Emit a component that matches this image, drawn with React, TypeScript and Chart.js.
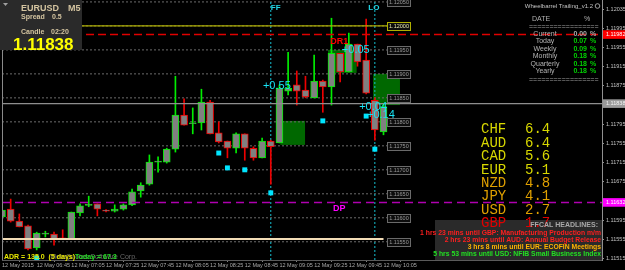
import React, { useEffect, useRef } from "react";
import { Chart, registerables } from "chart.js";

Chart.register(...registerables);

// ---------------- data ----------------
const opens = [1.11602, 1.11618, 1.11593, 1.11583, 1.11537, 1.11566, 1.11566, 1.11558, 1.11556, 1.1161, 1.11626, 1.11629, 1.11616, 1.11614, 1.11618, 1.11627, 1.11656, 1.1167, 1.11716, 1.11716, 1.11743, 1.11814, 1.11796, 1.11798, 1.11841, 1.11777, 1.1176, 1.11745, 1.11775, 1.11745, 1.11725, 1.1176, 1.11756, 1.11864, 1.11877, 1.11866, 1.1185, 1.11885, 1.11873, 1.11943, 1.11904, 1.11962, 1.11929, 1.11845, 1.11779];
const highs = [1.11627, 1.11639, 1.11608, 1.11585, 1.1157, 1.11572, 1.1157, 1.11575, 1.11612, 1.11629, 1.11645, 1.11629, 1.11617, 1.11627, 1.11629, 1.1166, 1.11673, 1.11731, 1.11727, 1.11745, 1.11895, 1.11848, 1.11829, 1.11868, 1.11845, 1.118, 1.1176, 1.11777, 1.11775, 1.11748, 1.11766, 1.11762, 1.11877, 1.11945, 1.11906, 1.11895, 1.11939, 1.11887, 1.12016, 1.11943, 1.11985, 1.11962, 1.12014, 1.1185, 1.11838];
const lows = [1.11598, 1.11591, 1.11581, 1.11533, 1.11533, 1.1156, 1.11543, 1.11556, 1.11556, 1.11604, 1.11623, 1.11604, 1.11612, 1.11612, 1.11616, 1.11625, 1.11643, 1.11668, 1.11695, 1.11714, 1.11737, 1.11793, 1.11775, 1.11783, 1.11775, 1.11756, 1.11725, 1.11735, 1.1172, 1.1172, 1.11725, 1.1167, 1.11756, 1.11856, 1.11835, 1.1185, 1.1185, 1.1182, 1.11835, 1.11883, 1.11904, 1.11916, 1.11858, 1.11762, 1.11773];
const closes = [1.11616, 1.11593, 1.11581, 1.11535, 1.11568, 1.11568, 1.11556, 1.11556, 1.11612, 1.11625, 1.11628, 1.11618, 1.11614, 1.11618, 1.11627, 1.11654, 1.11668, 1.11716, 1.11718, 1.11743, 1.11814, 1.11793, 1.11798, 1.11841, 1.11775, 1.11758, 1.11745, 1.11775, 1.11745, 1.11725, 1.1176, 1.11748, 1.1187, 1.1187, 1.11864, 1.11852, 1.11885, 1.11873, 1.11943, 1.11904, 1.11962, 1.11925, 1.1186, 1.11783, 1.11832];

const xTickIndex = [0, 4, 8, 12, 16, 20, 24, 28, 32, 36, 40, 44];
const xTickLabels = ["12 May 2015", "12 May 06:45", "12 May 07:05", "12 May 07:25", "12 May 07:45", "12 May 08:05", "12 May 08:25", "12 May 08:45", "12 May 09:05", "12 May 09:25", "12 May 09:45", "12 May 10:05"];

const yAxisTicks = [1.11515, 1.11555, 1.11595, 1.11675, 1.11715, 1.11755, 1.11795, 1.11875, 1.11915, 1.11955, 1.11995, 1.12035];
const gridLevels = [1.1155, 1.116, 1.1165, 1.117, 1.1175, 1.118, 1.1185, 1.119, 1.1195, 1.12, 1.1205];

const levelR = 1.12;      // yellow level
const levelDR1 = 1.11982; // red dashed
const levelBid = 1.11838; // current price
const levelDP = 1.11632;  // magenta dashed
const levelAdr = 1.11556; // beige line

const vLineIndex = [31, 43];
const vLineText = ["FF", "LO"];

const zoneStart = [32.1, 37.6, 42.8];
const zoneEnd = [34.95, 40.9, 45.9];
const zoneHigh = [1.11802, 1.1195, 1.119];
const zoneLow = [1.11752, 1.11902, 1.11835];

const markerIndex = [4, 25, 26, 28, 31, 37, 42, 43];
const markerPrice = [1.11516, 1.11735, 1.11704, 1.117, 1.11652, 1.11802, 1.11812, 1.11743];

const valueTexts = ["+0.55", "+0.05", "+0.04", "+0.14"];
const valueIndex = [31.7, 40.8, 42.8, 43.7];
const valuePrice = [1.11875, 1.1195, 1.11831, 1.11814];

const currencies = ["CHF", "AUD", "CAD", "EUR", "NZD", "JPY", "USD", "GBP"];
const strengths = [6.4, 6.4, 5.6, 5.1, 4.8, 4.1, 2.7, 1.7];

const tableRows = ["Current", "Today", "Weekly", "Monthly", "Quarterly", "Yearly"];
const tableValues = ["0.00", "0.07", "0.09", "0.18", "0.18", "0.18"];

const headlines = [
  "1 hrs 23 mins until GBP: Manufacturing Production m/m",
  "2 hrs 23 mins until AUD: Annual Budget Release",
  "3 hrs 8 mins until EUR: ECOFIN Meetings",
  "5 hrs 53 mins until USD: NFIB Small Business Index",
];
const headlineColors = ["#ff1f1f", "#ff1f1f", "#ffb400", "#22e022"];

// ---------------- style ----------------
const FONT = '"Liberation Sans", Arial, sans-serif';
const MONO = '"Liberation Mono", "Courier New", monospace';
const GREEN = "#00ee00";
const RED = "#ee0000";
const X_MIN = 0;
const X_MAX = 69.2;
const Y_MIN = 1.11512;
const Y_MAX = 1.12054;
const BOX_AT = 44.4;

function txt(ctx: any, s: string, x: number, y: number, font: string, color: string, align: string = "left") {
  ctx.font = font;
  ctx.fillStyle = color;
  ctx.textAlign = align;
  ctx.textBaseline = "middle";
  ctx.fillText(s, x, y);
}

const overlayPlugin = {
  id: "mtOverlay",
  beforeDraw(chart: any) {
    const { ctx, width, height } = chart;
    ctx.save();
    ctx.fillStyle = "#000";
    ctx.fillRect(0, 0, width, height);
    ctx.restore();
  },
  beforeDatasetsDraw(chart: any) {
    const { ctx, chartArea, scales } = chart;
    const xs = scales.x, ys = scales.y;
    ctx.save();
    ctx.beginPath();
    ctx.rect(chartArea.left, chartArea.top, chartArea.right - chartArea.left, chartArea.bottom - chartArea.top);
    ctx.clip();
    ctx.fillStyle = "#006800";
    zoneStart.forEach((s, k) => {
      const x0 = xs.getPixelForValue(s), x1 = xs.getPixelForValue(zoneEnd[k]);
      const y0 = ys.getPixelForValue(zoneHigh[k]), y1 = ys.getPixelForValue(zoneLow[k]);
      ctx.fillRect(x0, y0, x1 - x0, y1 - y0);
    });
    ctx.restore();
  },
  afterDatasetsDraw(chart: any) {
    const { ctx, chartArea, scales } = chart;
    const xs = scales.x, ys = scales.y;
    ctx.save();
    // left frame
    ctx.strokeStyle = "#8a8a8a";
    ctx.lineWidth = 1;
    ctx.beginPath();
    ctx.moveTo(Math.round(chartArea.left) + 0.5, chartArea.top);
    ctx.lineTo(Math.round(chartArea.left) + 0.5, chartArea.bottom);
    ctx.stroke();

    ctx.beginPath();
    ctx.rect(chartArea.left, chartArea.top, chartArea.right - chartArea.left, chartArea.bottom - chartArea.top);
    ctx.clip();

    // level boxes
    const bx = Math.round(xs.getPixelForValue(BOX_AT)) + 0.5;
    gridLevels.forEach((lv) => {
      const by = Math.round(ys.getPixelForValue(lv)) + 0.5;
      const isR = Math.abs(lv - levelR) < 1e-9;
      ctx.fillStyle = "#0c0c0c";
      ctx.fillRect(bx, by - 4, 23, 8);
      ctx.strokeStyle = isR ? "#b0b000" : "#6a6a6a";
      ctx.strokeRect(bx, by - 4, 23, 8);
      txt(ctx, lv.toFixed(5), bx + 11.5, by, `5.5px ${FONT}`, isR ? "#e8e8b0" : "#9a9a9a", "center");
    });

    // vertical line captions
    vLineIndex.forEach((vi, k) => {
      const px = xs.getPixelForValue(vi);
      if (k === 0) txt(ctx, vLineText[k], px, 8, `bold 8px ${FONT}`, "#22d8e8", "left");
      else txt(ctx, vLineText[k], px - 1, 8, `bold 8px ${FONT}`, "#22d8e8", "center");
    });

    // DR1 / DP captions
    txt(ctx, "DR1", xs.getPixelForValue(38.9), ys.getPixelForValue(1.11968), `bold 9px ${FONT}`, "#ff0000", "center");
    txt(ctx, "DP", xs.getPixelForValue(38.9), ys.getPixelForValue(1.1162), `bold 9px ${FONT}`, "#ff00ff", "center");

    // cyan value labels
    valueTexts.forEach((s, k) => {
      txt(ctx, s, xs.getPixelForValue(valueIndex[k]), ys.getPixelForValue(valuePrice[k]), `11px ${FONT}`, "#19e3f5", "center");
    });
    ctx.restore();
  },
  afterDraw(chart: any) {
    const { ctx } = chart;
    ctx.save();

    // top-left panel
    ctx.fillStyle = "#2a2a2a";
    ctx.fillRect(0, 0, 82, 50);
    ctx.fillStyle = "#a0a0a0";
    ctx.beginPath();
    ctx.moveTo(3, 3); ctx.lineTo(8, 3); ctx.lineTo(5.5, 6); ctx.closePath(); ctx.fill();
    const tan = "#d4c4a0";
    txt(ctx, "EURUSD", 21, 9, `bold 9px ${FONT}`, tan);
    txt(ctx, "M5", 68, 9, `bold 9px ${FONT}`, tan);
    txt(ctx, "Spread", 21, 17, `bold 7px ${FONT}`, tan);
    txt(ctx, "0.5", 52, 17, `bold 7px ${FONT}`, tan);
    txt(ctx, "Candle", 21, 32, `bold 7px ${FONT}`, tan);
    txt(ctx, "02:20", 51, 32, `bold 7px ${FONT}`, tan);
    txt(ctx, "1.11838", 13, 45, `bold 17px ${FONT}`, "#ffff00");

    // top-right table
    txt(ctx, "Wheelbarrel Trailing_v1.2", 593, 6, `6px ${FONT}`, "#c4c4c4", "right");
    ctx.strokeStyle = "#c4c4c4";
    ctx.lineWidth = 0.8;
    ctx.beginPath(); ctx.arc(597.5, 6, 2.3, 0, Math.PI * 2); ctx.stroke();
    txt(ctx, "DATE", 532, 19, `7px ${FONT}`, "#b0b0b0");
    txt(ctx, "%", 584, 19, `7px ${FONT}`, "#b0b0b0");
    txt(ctx, "=================", 529, 27, `7px ${FONT}`, "#a0a0a0");
    tableRows.forEach((r, k) => {
      const yy = 34 + k * 7.5;
      const col = k === 0 ? "#a8a8a8" : "#00d000";
      txt(ctx, r, 545, yy, `7px ${FONT}`, "#b4b4b4", "center");
      txt(ctx, tableValues[k], 587, yy, `bold 7px ${FONT}`, col, "right");
      txt(ctx, "%", 590, yy, `bold 7px ${FONT}`, col, "left");
    });
    txt(ctx, "=================", 529, 80, `7px ${FONT}`, "#a0a0a0");

    // headlines box
    ctx.fillStyle = "#2a2a2a";
    ctx.fillRect(435, 220, 167, 40);

    // currency strength
    currencies.forEach((c, k) => {
      const v = strengths[k];
      const col = v >= 5 ? "#d8d800" : v >= 2 ? "#e0a000" : "#e00000";
      const yy = 129.5 + k * 13.45;
      txt(ctx, c, 481, yy, `14px ${MONO}`, col);
      txt(ctx, v.toFixed(1), 525, yy, `14px ${MONO}`, col);
    });

    txt(ctx, "FFCAL HEADLINES:", 598, 225, `bold 7px ${FONT}`, "#a8a8a8", "right");
    headlines.forEach((h, k) => {
      txt(ctx, h, 601, 233 + k * 7.2, `bold 6.8px ${FONT}`, headlineColors[k], "right");
    });

    // ADR line
    txt(ctx, "MetaQuotes Software Corp.", 137, 257, `7px ${FONT}`, "#6a6a6a", "right");
    const adr = "ADR = 135.0  (5 days)";
    ctx.font = `bold 7px ${FONT}`;
    const w = ctx.measureText(adr).width;
    txt(ctx, adr, 4, 257, `bold 7px ${FONT}`, "#e8e800");
    txt(ctx, "Today = 67.3", 4 + w, 257, `bold 7px ${FONT}`, "#22dd22");

    ctx.restore();
  },
};

export default function App() {
  const ref = useRef<HTMLCanvasElement | null>(null);

  useEffect(() => {
    document.body.style.margin = "0";
    document.body.style.background = "#000";
    const canvas = ref.current;
    if (!canvas) return;

    const idx = opens.map((_, i) => i);
    const up = idx.map((i) => closes[i] >= opens[i]);

    const hLine = (price: number, x0: number, x1: number, color: string, width: number, dash: number[], order: number) => ({
      type: "line",
      data: [{ x: x0, y: price }, { x: x1, y: price }],
      borderColor: color,
      borderWidth: width,
      borderDash: dash,
      pointRadius: 0,
      fill: false,
      order,
    });

    const datasets: any[] = [];
    datasets.push({
      type: "bar",
      data: idx.map((i) => ({ x: i, y: [opens[i], closes[i]] })),
      backgroundColor: "#808080",
      borderColor: up.map((u) => (u ? GREEN : RED)),
      borderWidth: 1,
      borderSkipped: false,
      barThickness: 7,
      grouped: false,
      order: 5,
    });
    datasets.push({
      type: "bar",
      data: idx.map((i) => ({ x: i, y: [lows[i], highs[i]] })),
      backgroundColor: up.map((u) => (u ? GREEN : RED)),
      borderWidth: 0,
      barThickness: 1,
      grouped: false,
      order: 6,
    });
    gridLevels.forEach((lv) => datasets.push(hLine(lv, X_MIN, BOX_AT, "#6c6c6c", 1, [2, 2], 10)));
    vLineIndex.forEach((vi) =>
      datasets.push({
        type: "line",
        data: [{ x: vi, y: Y_MIN }, { x: vi, y: Y_MAX }],
        borderColor: "#16bfd0",
        borderWidth: 1,
        borderDash: [2, 2],
        pointRadius: 0,
        fill: false,
        order: 9,
      })
    );
    datasets.push(hLine(levelR, X_MIN, BOX_AT, "#aeae00", 1.3, [], 3));
    datasets.push(hLine(levelAdr, X_MIN, 44, "#f2dcb6", 2, [], 3));
    datasets.push(hLine(levelBid, X_MIN, X_MAX, "#8e8e8e", 1.2, [], 3));
    datasets.push(hLine(levelDR1, X_MIN, X_MAX, "#e00000", 1.5, [8, 4], 3));
    datasets.push(hLine(levelDP, X_MIN, X_MAX, "#b000b0", 1.5, [8, 5], 3));
    datasets.push({
      type: "line",
      showLine: false,
      data: markerIndex.map((m, k) => ({ x: m, y: markerPrice[k] })),
      pointStyle: "rect",
      pointRadius: 3.5,
      pointBackgroundColor: "#00e5ff",
      pointBorderWidth: 0,
      order: 1,
    });

    const special = (v: number) => {
      if (Math.abs(v - levelDR1) < 1e-9) return { bg: "#ff0000", fg: "#ffffff" };
      if (Math.abs(v - levelBid) < 1e-9) return { bg: "#9a9a9a", fg: "#f4f4f4" };
      if (Math.abs(v - levelDP) < 1e-9) return { bg: "#ff00ff", fg: "#ffffff" };
      return null;
    };

    const chart = new Chart(canvas, {
      type: "bar",
      data: { datasets },
      plugins: [overlayPlugin],
      options: {
        animation: false,
        responsive: false,
        maintainAspectRatio: false,
        devicePixelRatio: 1,
        events: [],
        layout: { autoPadding: false, padding: { left: 2, right: 0, top: 0, bottom: 0 } },
        plugins: { legend: { display: false }, tooltip: { enabled: false }, title: { display: false } },
        scales: {
          x: {
            type: "linear",
            min: X_MIN,
            max: X_MAX,
            offset: false,
            position: "bottom",
            afterBuildTicks: (s: any) => {
              s.ticks = xTickIndex.map((v) => ({ value: v }));
            },
            afterFit: (s: any) => {
              s.height = 10;
              s.paddingLeft = 0;
              s.paddingRight = 0;
            },
            ticks: {
              autoSkip: false,
              maxRotation: 0,
              minRotation: 0,
              align: "start",
              padding: 0,
              color: "#a8a8a8",
              font: { family: FONT, size: 5.5 },
              callback: (_v: any, i: number) => xTickLabels[i],
            },
            grid: { display: true, drawOnChartArea: false, drawTicks: true, tickLength: 2, color: "#808080" },
            border: { display: true, color: "#5a5a5a" },
          },
          y: {
            type: "linear",
            position: "right",
            min: Y_MIN,
            max: Y_MAX,
            afterBuildTicks: (s: any) => {
              s.ticks = [...yAxisTicks, levelDR1, levelBid, levelDP].sort((a, b) => a - b).map((v) => ({ value: v }));
            },
            afterFit: (s: any) => {
              s.width = 23;
              s.paddingTop = 0;
              s.paddingBottom = 0;
            },
            ticks: {
              autoSkip: false,
              padding: 2,
              font: { family: FONT, size: 5.5 },
              callback: (v: any) => Number(v).toFixed(5),
              color: (c: any) => (special(c.tick.value) ? special(c.tick.value)!.fg : "#c0c0c0"),
              showLabelBackdrop: (c: any) => !!special(c.tick.value),
              backdropColor: (c: any) => (special(c.tick.value) ? special(c.tick.value)!.bg : "transparent"),
              backdropPadding: { left: 3, right: 3, top: 1, bottom: 1 },
            },
            grid: { display: true, drawOnChartArea: false, drawTicks: true, tickLength: 2, color: "#909090" },
            border: { display: true, color: "#909090" },
          },
        },
      } as any,
    } as any);

    return () => chart.destroy();
  }, []);

  return (
    <div style={{ width: 625, height: 270, background: "#000" }}>
      <canvas ref={ref} width={625} height={270} style={{ display: "block" }} />
    </div>
  );
}
